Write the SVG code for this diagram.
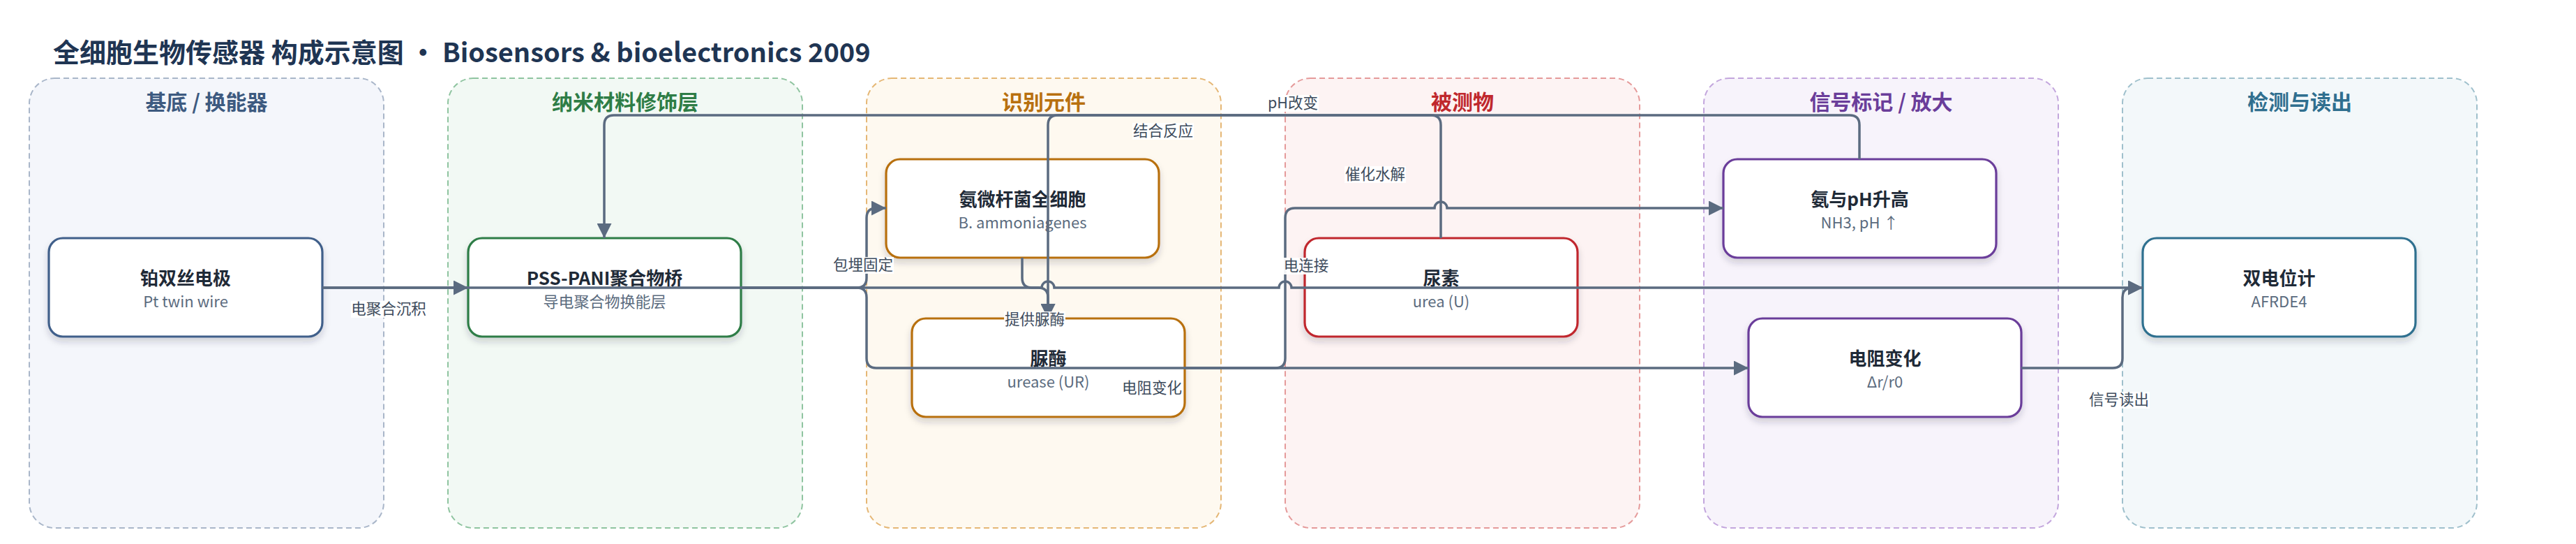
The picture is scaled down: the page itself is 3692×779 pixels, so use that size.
<svg xmlns="http://www.w3.org/2000/svg" width="3692" height="779" viewBox="0 0 3692 779">
<style>
text{font-family:"Noto Sans CJK SC","Noto Sans",sans-serif}
.title{font-size:38px;font-weight:700;fill:#1f3553}
.gt{font-size:30px;font-weight:700;text-anchor:middle}
.grp{stroke-width:2;stroke-dasharray:8 5}
.node{fill:#fff;stroke-width:3.2;filter:url(#sh)}
.nt{font-size:26px;font-weight:700;fill:#1f2a37;text-anchor:middle}
.ns{font-size:22px;fill:#5b6b7e;text-anchor:middle}
.e{fill:none;stroke:#5b6b80;stroke-width:3.5;marker-end:url(#ah)}
.lb{fill:#fff;opacity:0.92}
.lt{font-size:21.5px;fill:#3d4b5c;text-anchor:middle}
</style>
<defs>
<filter id="sh" x="-10%" y="-10%" width="120%" height="130%">
<feDropShadow dx="0" dy="6" stdDeviation="5" flood-color="#1f2a37" flood-opacity="0.18"/>
</filter>
<marker id="ah" viewBox="0 0 20 20" refX="20" refY="10" markerWidth="21" markerHeight="21" markerUnits="userSpaceOnUse" orient="auto">
<path d="M0,0 L20,10 L0,20 Z" fill="#5b6b80"/>
</marker>
</defs>
<rect width="3692" height="779" fill="#fff"/>
<text class="title" x="76" y="89">全细胞生物传感器 构成示意图 · Biosensors &amp; bioelectronics 2009</text>

<g id="groups">
<g id="g-substrate"><rect class="grp" x="42" y="112" width="508" height="644" rx="36" fill="#f4f6fb" stroke="#a9b6c9"/><text class="gt" x="296" y="157" fill="#3d5a80">基底 / 换能器</text></g>
<g id="g-nano"><rect class="grp" x="642" y="112" width="508" height="644" rx="36" fill="#f2f9f4" stroke="#8fc4a0"/><text class="gt" x="896" y="157" fill="#2e7d46">纳米材料修饰层</text></g>
<g id="g-recog"><rect class="grp" x="1242" y="112" width="508" height="644" rx="36" fill="#fef9f0" stroke="#e5b775"/><text class="gt" x="1496" y="157" fill="#b8700f">识别元件</text></g>
<g id="g-analyte"><rect class="grp" x="1842" y="112" width="508" height="644" rx="36" fill="#fdf3f3" stroke="#e59a9a"/><text class="gt" x="2096" y="157" fill="#c0282d">被测物</text></g>
<g id="g-signal"><rect class="grp" x="2442" y="112" width="508" height="644" rx="36" fill="#f7f3fb" stroke="#c3a6dd"/><text class="gt" x="2696" y="157" fill="#6a3d9a">信号标记 / 放大</text></g>
<g id="g-readout"><rect class="grp" x="3042" y="112" width="508" height="644" rx="36" fill="#f3f8fa" stroke="#9fc0cc"/><text class="gt" x="3296" y="157" fill="#2f6f8f">检测与读出</text></g>
</g>

<g id="nodes">
<g id="n-pt"><rect class="node" x="70" y="341" width="392" height="141" rx="20" stroke="#3f5f8a"/><text class="nt" x="266" y="408">铂双丝电极</text><text class="ns" x="266" y="440">Pt twin wire</text></g>
<g id="n-pss"><rect class="node" x="671" y="341" width="391" height="141" rx="20" stroke="#2e7d46"/><text class="nt" x="866.5" y="408">PSS-PANI聚合物桥</text><text class="ns" x="866.5" y="440">导电聚合物换能层</text></g>
<g id="n-bact"><rect class="node" x="1270" y="228" width="391" height="141" rx="20" stroke="#b8700f"/><text class="nt" x="1465.5" y="295">氨微杆菌全细胞</text><text class="ns" x="1465.5" y="327">B. ammoniagenes</text></g>
<g id="n-urease"><rect class="node" x="1307" y="456" width="391" height="141" rx="20" stroke="#b8700f"/><text class="nt" x="1502.5" y="523">脲酶</text><text class="ns" x="1502.5" y="555">urease (UR)</text></g>
<g id="n-urea"><rect class="node" x="1870" y="341" width="391" height="141" rx="20" stroke="#c0282d"/><text class="nt" x="2065.5" y="408">尿素</text><text class="ns" x="2065.5" y="440">urea (U)</text></g>
<g id="n-nh3"><rect class="node" x="2470" y="228" width="391" height="141" rx="20" stroke="#6a3d9a"/><text class="nt" x="2665.5" y="295">氨与pH升高</text><text class="ns" x="2665.5" y="327">NH3, pH ↑</text></g>
<g id="n-res"><rect class="node" x="2506" y="456" width="391" height="141" rx="20" stroke="#6a3d9a"/><text class="nt" x="2701.5" y="523">电阻变化</text><text class="ns" x="2701.5" y="555">Δr/r0</text></g>
<g id="n-meter"><rect class="node" x="3071" y="341" width="391" height="141" rx="20" stroke="#2f6f8f"/><text class="nt" x="3266.5" y="408">双电位计</text><text class="ns" x="3266.5" y="440">AFRDE4</text></g>
</g>

<g id="connectors">
<path class="e" d="M462,412 H671"/>
<path class="e" d="M462,412 H1493 a9,9 0 0 1 18,0 H1833 a9,9 0 0 1 18,0 H3071"/>
<path class="e" d="M1062,412 H1228 Q1242,412 1242,398 V312 Q1242,298 1256,298 H1270"/>
<path class="e" d="M1062,412 H1228 Q1242,412 1242,426 V513 Q1242,527 1256,527 H2506"/>
<path class="e" d="M1465,369 V398 Q1465,412 1479,412 H1488 Q1502,412 1502,426 V456"/>
<path class="e" d="M2065,341 V179 Q2065,165 2051,165 H1516 Q1502,165 1502,179 V456"/>
<path class="e" d="M1698,527 H1828 Q1842,527 1842,513 V312 Q1842,298 1856,298 H2056 a9,9 0 0 1 18,0 H2470"/>
<path class="e" d="M2665,228 V179 Q2665,165 2651,165 H880 Q866,165 866,179 V341"/>
<path class="e" d="M2897,527 H3028 Q3042,527 3042,513 V426 Q3042,412 3056,412 H3071"/>

<g id="labels">
<rect class="lb" x="503" y="431" width="108" height="24"/><text class="lt" x="557" y="450">电聚合沉积</text>
<rect class="lb" x="1193" y="368" width="88" height="24"/><text class="lt" x="1237" y="387">包埋固定</text>
<rect class="lb" x="1623" y="176" width="88" height="24"/><text class="lt" x="1667" y="195">结合反应</text>
<rect class="lb" x="1816" y="136" width="74" height="24"/><text class="lt" x="1853" y="155">pH改变</text>
<rect class="lb" x="1927" y="238" width="88" height="24"/><text class="lt" x="1971" y="257">催化水解</text>
<rect class="lb" x="1839" y="369" width="66" height="24"/><text class="lt" x="1872" y="388">电连接</text>
<rect class="lb" x="1439" y="446" width="88" height="24"/><text class="lt" x="1483" y="465">提供脲酶</text>
<rect class="lb" x="1607" y="544" width="88" height="24"/><text class="lt" x="1651" y="563">电阻变化</text>
<rect class="lb" x="2993" y="561" width="88" height="24"/><text class="lt" x="3037" y="580">信号读出</text>
</g>
</g>
</svg>
